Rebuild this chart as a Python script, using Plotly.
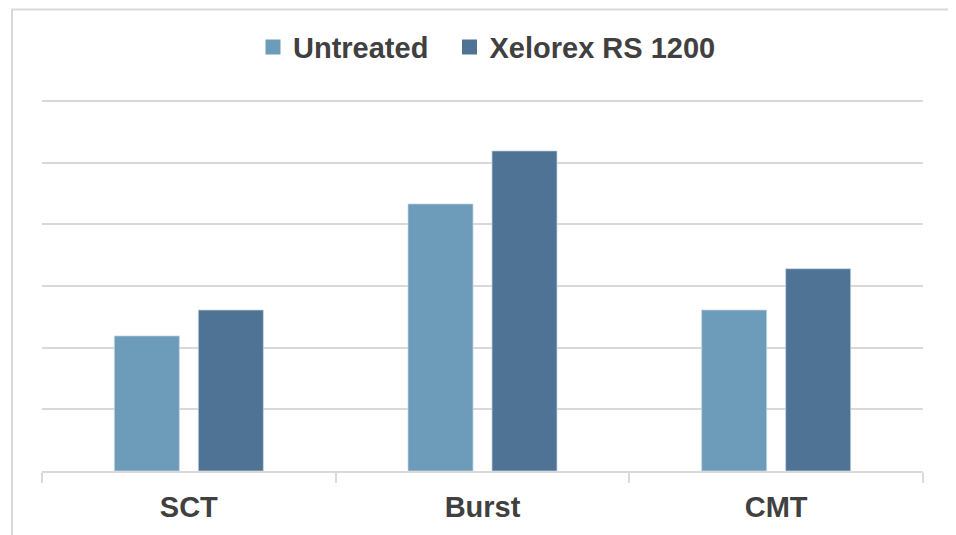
import plotly.graph_objects as go

categories = ["SCT", "Burst", "CMT"]
untreated = [2.19, 4.33, 2.61]
xelorex = [2.61, 5.19, 3.28]
series_names = ["Untreated", "Xelorex RS 1200"]
colors = ["#6D9BBA", "#4F7395"]

FONT = "Arial, Liberation Sans, sans-serif"
TXT = "#404040"
GRID = "#d9d9d9"

fig = go.Figure()
for i, (name, vals, col) in enumerate(zip(series_names, [untreated, xelorex], colors)):
    fig.add_trace(go.Bar(
        x=categories, y=vals, name=name,
        marker=dict(color=col, line=dict(color="rgba(200,215,228,0.9)", width=0.8)),
        showlegend=False,
    ))
    # legend entry (extra non-breaking spaces widen the gap after the first item)
    label = name + ("\u00a0\u00a0" if i == 0 else "")
    fig.add_trace(go.Scatter(
        x=[None], y=[None], mode="markers", name=label,
        marker=dict(symbol="square", size=15, color=col),
        showlegend=True,
    ))

# page body has an 8px margin, so figure pixel = screen pixel - 8
W, H = 948, 527
L, R, T, B = 34, 33, 90, 62
pw, ph = W - L - R, H - T - B

def px2paper_x(px):
    return (px - L) / pw

def py2paper_y(py):
    return (H - B - py) / ph

fig.update_layout(
    width=W, height=H,
    margin=dict(l=L, r=R, t=T, b=B, pad=0),
    paper_bgcolor="white", plot_bgcolor="white",
    barmode="group", bargap=0.428, bargroupgap=0.226,
    font=dict(family=FONT, color=TXT),
    legend=dict(
        orientation="h", x=px2paper_x(245), xanchor="left",
        y=py2paper_y(39), yanchor="middle",
        font=dict(family=FONT, size=29, color=TXT, weight="bold"),
        itemclick=False, bgcolor="rgba(0,0,0,0)",
    ),
    xaxis=dict(
        showline=True, linecolor=GRID, linewidth=2,
        ticks="outside", tickson="boundaries", ticklen=10,
        tickcolor=GRID, tickwidth=2,
        tickfont=dict(family=FONT, size=29, color=TXT, weight="bold"),
        ticklabelstandoff=9,
        showgrid=False, fixedrange=True,
    ),
    yaxis=dict(
        range=[0, 6.048], dtick=1, showticklabels=False,
        showgrid=True, gridcolor=GRID, gridwidth=2,
        zeroline=False, showline=False, fixedrange=True,
    ),
    shapes=[dict(
        type="rect", xref="paper", yref="paper",
        x0=px2paper_x(4), x1=px2paper_x(945),
        y0=py2paper_y(540), y1=py2paper_y(1),
        line=dict(color=GRID, width=2), fillcolor="rgba(0,0,0,0)", layer="below",
    )],
)

fig.write_html("out.html")
